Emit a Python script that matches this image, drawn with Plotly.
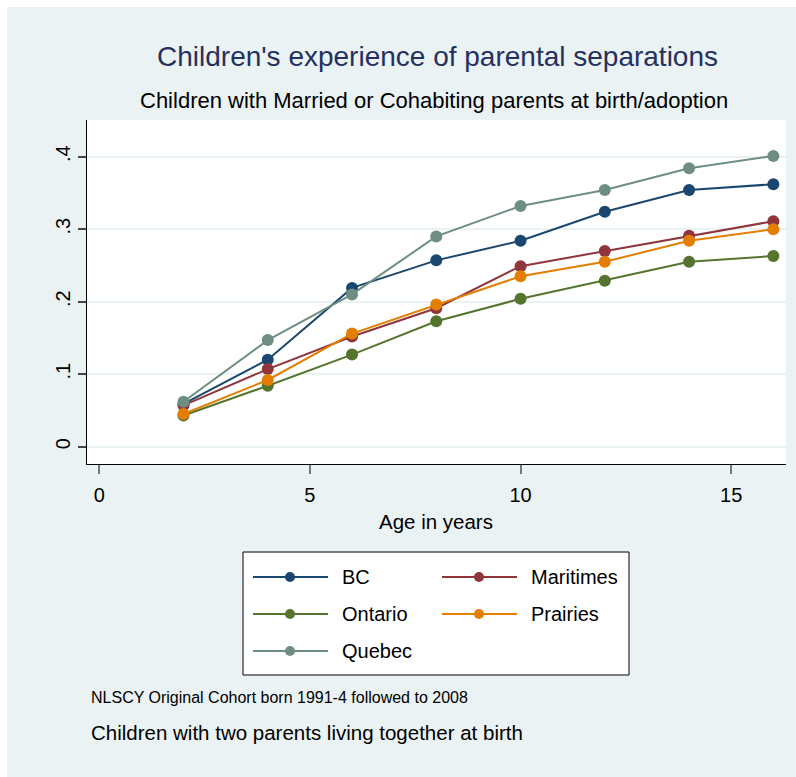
import plotly.graph_objects as go

# Age at interview (years) and share of children who experienced a parental separation
ages = [2, 4, 6, 8, 10, 12, 14, 16]
regions = ["BC", "Maritimes", "Ontario", "Prairies", "Quebec"]
bc = [0.059, 0.120, 0.219, 0.257, 0.284, 0.324, 0.354, 0.362]
maritimes = [0.057, 0.107, 0.152, 0.191, 0.249, 0.270, 0.291, 0.311]
ontario = [0.043, 0.084, 0.127, 0.173, 0.204, 0.229, 0.255, 0.263]
prairies = [0.045, 0.092, 0.156, 0.196, 0.235, 0.255, 0.284, 0.300]
quebec = [0.062, 0.147, 0.210, 0.290, 0.332, 0.354, 0.384, 0.401]
series = [bc, maritimes, ontario, prairies, quebec]
colors = ["#1a476f", "#90353b", "#55752f", "#e37e00", "#6e8e84"]

x_ticks = [0, 5, 10, 15]
y_ticks = [0, 0.1, 0.2, 0.3, 0.4]
y_ticklabels = ["0", ".1", ".2", ".3", ".4"]

FONT = "Liberation Sans Narrow, Arial Narrow, Liberation Sans, Arial, sans-serif"
BG = "#eaf2f3"

W, H = 796, 777
ML, MR, MT, MB = 87, 10, 120, 313
PW, PH = W - ML - MR, H - MT - MB


def px(x):
    return (x - ML) / PW


def py(y):
    return (H - MB - y) / PH


fig = go.Figure()
for name, vals, col in zip(regions, series, colors):
    fig.add_trace(go.Scatter(
        x=ages, y=vals, name=name, mode="lines+markers",
        line=dict(color=col, width=2),
        marker=dict(color=col, size=12),
        showlegend=False,
    ))

shapes = [
    # thin white frame at the top and left edges of the canvas
    dict(type="rect", xref="paper", yref="paper", x0=px(0), x1=px(W), y0=py(0), y1=py(7),
         fillcolor="white", line_width=0, layer="below"),
    dict(type="rect", xref="paper", yref="paper", x0=px(0), x1=px(7), y0=py(0), y1=py(H),
         fillcolor="white", line_width=0, layer="below"),
    # legend box
    dict(type="rect", xref="paper", yref="paper", x0=px(243), x1=px(629), y0=py(552), y1=py(675),
         fillcolor="white", line=dict(color="black", width=1)),
]
annotations = []

# legend entries, two per row
col_x = [253, 442]
row_y = [577, 614, 651]
for i, (name, col) in enumerate(zip(regions, colors)):
    cx = col_x[i % 2]
    cy = row_y[i // 2]
    shapes.append(dict(type="line", xref="paper", yref="paper",
                       x0=px(cx), x1=px(cx + 75), y0=py(cy), y1=py(cy),
                       line=dict(color=col, width=2)))
    shapes.append(dict(type="circle", xref="paper", yref="paper",
                       xsizemode="pixel", ysizemode="pixel",
                       xanchor=px(cx + 37), yanchor=py(cy),
                       x0=-5, x1=5, y0=-5, y1=5,
                       fillcolor=col, line=dict(color=col, width=0)))
    annotations.append(dict(text=name, xref="paper", yref="paper",
                            x=px(cx + 87), y=py(cy), xanchor="left", yanchor="middle",
                            showarrow=False, font=dict(family=FONT, size=20, color="black")))

annotations += [
    dict(text="Children's experience of parental separations", xref="paper", yref="paper",
         x=px(437), y=py(57), xanchor="center", yanchor="middle", showarrow=False,
         font=dict(family=FONT, size=28, color="#24315e")),
    dict(text="Children with Married or Cohabiting parents at birth/adoption", xref="paper",
         yref="paper", x=px(434), y=py(101), xanchor="center", yanchor="middle",
         showarrow=False, font=dict(family=FONT, size=22, color="black")),
    dict(text="Age in years", xref="paper", yref="paper", x=px(436), y=py(521),
         xanchor="center", yanchor="middle", showarrow=False,
         font=dict(family=FONT, size=20.5, color="black")),
    dict(text="NLSCY Original Cohort born 1991-4 followed to 2008", xref="paper", yref="paper",
         x=px(89), y=py(697), xanchor="left", yanchor="middle", showarrow=False,
         font=dict(family=FONT, size=16, color="black")),
    dict(text="Children with two parents living together at birth", xref="paper", yref="paper",
         x=px(89), y=py(732), xanchor="left", yanchor="middle", showarrow=False,
         font=dict(family=FONT, size=20.5, color="black")),
]

fig.update_layout(
    width=W, height=H,
    margin=dict(l=ML, r=MR, t=MT, b=MB, pad=0),
    paper_bgcolor=BG, plot_bgcolor="white",
    font=dict(family=FONT, size=20, color="black"),
    shapes=shapes, annotations=annotations,
    showlegend=False,
)
fig.update_xaxes(
    range=[-0.29, 16.3], tickvals=x_ticks, ticks="outside", ticklen=9, tickwidth=1.5,
    tickcolor="#777777", showline=True, linecolor="black", linewidth=1,
    showgrid=False, zeroline=False, tickfont=dict(size=20), ticklabelstandoff=4,
)
fig.update_yaxes(
    range=[-0.0239, 0.4506], tickvals=y_ticks, ticktext=y_ticklabels, tickangle=-90,
    ticks="outside", ticklen=8, tickwidth=1.5, tickcolor="#444444",
    showline=True, linecolor="black", linewidth=1,
    showgrid=True, gridcolor=BG, gridwidth=2, zeroline=False, tickfont=dict(size=20),
    ticklabelstandoff=0,
)

fig.write_html("out.html")
